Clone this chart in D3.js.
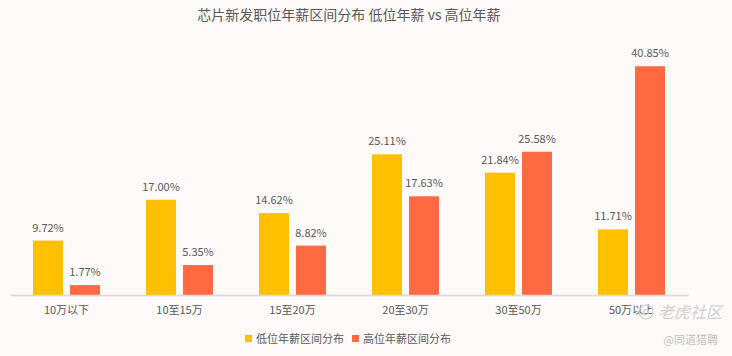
<!DOCTYPE html>
<html><head><meta charset="utf-8">
<script src="https://cdn.jsdelivr.net/npm/d3@7"></script>
<style>
html,body{margin:0;padding:0;background:#fdfaf9;}
svg{display:block;font-family:"Noto Sans CJK SC","Noto Sans",sans-serif;}
</style></head>
<body><svg id="c" width="732" height="356"></svg>
<script>
const categories = ["10万以下","10至15万","15至20万","20至30万","30至50万","50万以上"];
const lowValues = [9.72, 17.00, 14.62, 25.11, 21.84, 11.71];
const highValues = [1.77, 5.35, 8.82, 17.63, 25.58, 40.85];
const seriesNames = ["低位年薪区间分布","高位年薪区间分布"];
const colors = ["#ffc000","#ff6a42"];
const title = "芯片新发职位年薪区间分布 低位年薪 vs 高位年薪";

const svg = d3.select("#c");
svg.append("rect").attr("width",732).attr("height",356).attr("fill","#fdfaf9");
const left = 10, right = 688, base = 295;
const x = d3.scaleBand().domain(categories).range([left,right]).paddingInner(0.407).paddingOuter(0.2035);
const xs = d3.scaleBand().domain([0,1]).range([0,x.bandwidth()]).paddingInner(0.19);
const y = d3.scaleLinear().domain([0,45]).range([base,43]);

svg.append("text").attr("x",349).attr("y",20).attr("text-anchor","middle")
  .attr("font-size",14).attr("fill","#595959").text(title);

const series = [lowValues, highValues];
series.forEach((vals,si)=>{
  const g = svg.append("g");
  g.selectAll("rect").data(vals).join("rect")
    .attr("x",(d,i)=>x(categories[i])+xs(si))
    .attr("y",d=>y(d)).attr("width",xs.bandwidth()).attr("height",d=>base-y(d))
    .attr("fill",colors[si]);
  g.selectAll("text").data(vals).join("text")
    .attr("x",(d,i)=>x(categories[i])+xs(si)+xs.bandwidth()/2)
    .attr("y",d=>y(d)-9).attr("text-anchor","middle")
    .attr("font-size",11).attr("fill","#595959").text(d=>d.toFixed(2)+"%");
});

const xAxis = svg.append("g").attr("transform",`translate(0,${base})`)
  .call(d3.axisBottom(x).tickSize(0).tickPadding(11));
xAxis.select(".domain").attr("stroke","#d9d9d9").attr("stroke-width",1.5);
xAxis.selectAll("text").attr("font-size",11).attr("fill","#595959")
  .attr("font-family","'Noto Sans CJK SC','Noto Sans',sans-serif");

// legend
const leg = svg.append("g");
const legX = [245, 352];
seriesNames.forEach((n,i)=>{
  leg.append("rect").attr("x",legX[i]).attr("y",335).attr("width",7).attr("height",7).attr("fill",colors[i]);
  leg.append("text").attr("x",legX[i]+11).attr("y",342.5).attr("font-size",11).attr("fill","#595959").text(n);
});

// watermark
svg.append("circle").attr("cx",646).attr("cy",312).attr("r",7).attr("fill","none").attr("stroke","#cfcfcf").attr("stroke-width",1.2);
svg.append("circle").attr("cx",646).attr("cy",312).attr("r",2.5).attr("fill","none").attr("stroke","#cfcfcf").attr("stroke-width",1.2);
svg.append("text").attr("x",722).attr("y",318).attr("text-anchor","end").attr("font-size",16)
  .attr("fill","#d0d0d0").attr("font-style","italic").text("老虎社区");
svg.append("text").attr("x",718).attr("y",344).attr("text-anchor","end").attr("font-size",11)
  .attr("fill","#c0c0c0").text("@同道猎聘");
</script></body></html>
